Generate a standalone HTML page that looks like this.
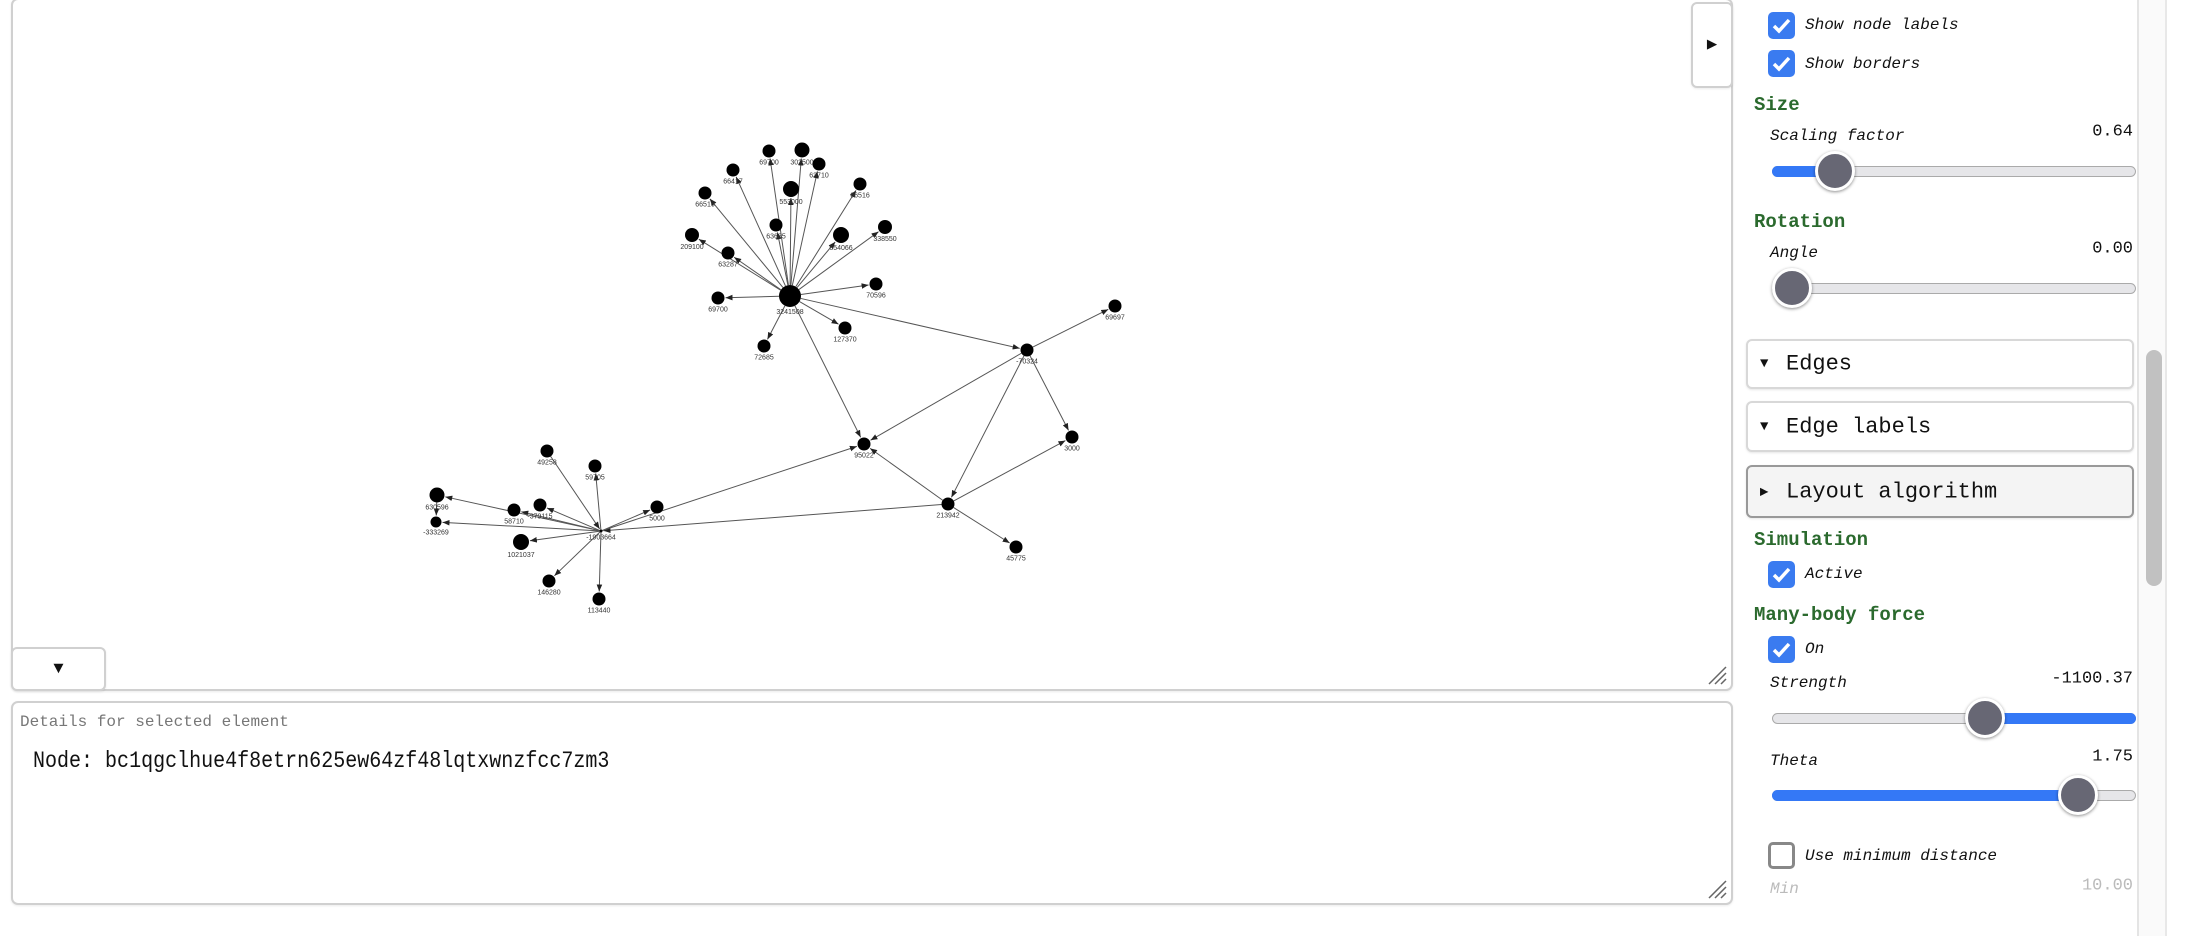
<!DOCTYPE html>
<html><head><meta charset="utf-8">
<style>
*{box-sizing:border-box;margin:0;padding:0}
body{width:2190px;height:936px;background:#fff;position:relative;overflow:hidden;font-family:"Liberation Mono",monospace;color:#111}
.abs{position:absolute}
.panel{position:absolute;border:2px solid #d0d0d0;border-radius:7px;background:#fff;box-shadow:0 1px 2px rgba(0,0,0,.08)}
.cb{position:absolute;width:27px;height:27px;border-radius:5px;background:#3a7bf0}
.cb svg{position:absolute;left:4px;top:5px}
.cb.off{background:#fff;border:3px solid #888}
.lbl{position:absolute;font-style:italic;font-size:16px;white-space:nowrap;transform:translateY(-50%)}
.head{position:absolute;font-weight:bold;color:#2b6a2e;font-size:19px;white-space:nowrap;transform:translateY(-50%)}
.val{position:absolute;font-size:17px;right:57px;transform:translateY(-50%)}
.track{position:absolute;height:11px;border-radius:6px;background:#e6e6e9;border:1px solid #aaa}
.fill{position:absolute;height:11px;border-radius:6px;background:#3478f6}
.thumb{position:absolute;width:40px;height:40px;border-radius:50%;background:#676774;border:3px solid #fff;box-shadow:0 1px 3px rgba(0,0,0,.45);transform:translate(-50%,-50%)}
.sect{position:absolute;left:1746px;width:388px;border:2px solid #d8d8d8;border-radius:6px;background:#fff;font-size:22px;box-shadow:0 1px 2px rgba(0,0,0,.1)}
.sect span{position:absolute;top:50%;transform:translateY(-50%);white-space:nowrap}
</style></head><body>

<div class="panel" style="left:11px;top:-2px;width:1722px;height:693px">
<svg id="graph" width="1722" height="693" style="position:absolute;left:-2px;top:0"></svg>
<svg class="abs" style="right:4px;bottom:4px" width="22" height="22"><path d="M21 4L4 21M21 10L10 21M21 16L16 21" stroke="#666" stroke-width="1.5"/></svg>
</div>
<div class="panel" style="left:1691px;top:2px;width:42px;height:86px;border-radius:6px;font-size:17px;text-align:center;line-height:84px">▶</div>
<div class="panel" style="left:11px;top:647px;width:95px;height:44px;border-radius:6px;font-size:17px;text-align:center;line-height:42px">▼</div>

<div class="panel" style="left:11px;top:701px;width:1722px;height:204px">
<div class="abs" style="left:7px;top:10px;font-size:16px;color:#777">Details for selected element</div>
<div class="abs" style="left:20px;top:45px;font-size:23px;color:#111;transform:scaleX(0.87);transform-origin:0 0;white-space:nowrap">Node: bc1qgclhue4f8etrn625ew64zf48lqtxwnzfcc7zm3</div>
<svg class="abs" style="right:4px;bottom:4px" width="22" height="22"><path d="M21 4L4 21M21 10L10 21M21 16L16 21" stroke="#666" stroke-width="1.5"/></svg>
</div>

<!-- right panel -->
<div class="abs" style="left:2137px;top:0;width:2px;height:936px;background:#e4e4e4"></div>
<div class="abs" style="left:2139px;top:0;width:28px;height:936px;background:#fafafa;border-right:2px solid #e8e8e8"></div>
<div class="abs" style="left:2146px;top:350px;width:16px;height:236px;border-radius:8px;background:#c1c1c1"></div>

<div class="cb" style="left:1768px;top:12px"><svg width="19" height="17"><path d="M2 9l5 5 10-11" stroke="#fff" stroke-width="3.5" fill="none"/></svg></div>
<div class="lbl" style="left:1805px;top:25px">Show node labels</div>
<div class="cb" style="left:1768px;top:50px"><svg width="19" height="17"><path d="M2 9l5 5 10-11" stroke="#fff" stroke-width="3.5" fill="none"/></svg></div>
<div class="lbl" style="left:1805px;top:64px">Show borders</div>

<div class="head" style="left:1754px;top:105px">Size</div>
<div class="lbl" style="left:1770px;top:136px">Scaling factor</div>
<div class="val" style="top:132px">0.64</div>
<div class="track" style="left:1772px;top:166px;width:364px"></div>
<div class="fill" style="left:1772px;top:166px;width:64px"></div>
<div class="thumb" style="left:1835px;top:171px"></div>

<div class="head" style="left:1754px;top:222px">Rotation</div>
<div class="lbl" style="left:1770px;top:253px">Angle</div>
<div class="val" style="top:249px">0.00</div>
<div class="track" style="left:1772px;top:283px;width:364px"></div>
<div class="thumb" style="left:1792px;top:288px"></div>

<div class="sect" style="top:339px;height:50px"><span style="left:12px;font-size:14px">▼</span><span style="left:38px">Edges</span></div>
<div class="sect" style="top:401px;height:51px"><span style="left:12px;font-size:14px">▼</span><span style="left:38px">Edge labels</span></div>
<div class="sect" style="top:465px;height:53px;background:#f4f4f4;border-color:#999"><span style="left:12px;font-size:14px">▶</span><span style="left:38px">Layout algorithm</span></div>

<div class="head" style="left:1754px;top:540px">Simulation</div>
<div class="cb" style="left:1768px;top:561px"><svg width="19" height="17"><path d="M2 9l5 5 10-11" stroke="#fff" stroke-width="3.5" fill="none"/></svg></div>
<div class="lbl" style="left:1805px;top:574px">Active</div>

<div class="head" style="left:1754px;top:615px">Many-body force</div>
<div class="cb" style="left:1768px;top:636px"><svg width="19" height="17"><path d="M2 9l5 5 10-11" stroke="#fff" stroke-width="3.5" fill="none"/></svg></div>
<div class="lbl" style="left:1805px;top:649px">On</div>
<div class="lbl" style="left:1770px;top:683px">Strength</div>
<div class="val" style="top:679px">-1100.37</div>
<div class="track" style="left:1772px;top:713px;width:364px"></div>
<div class="fill" style="left:1985px;top:713px;width:151px"></div>
<div class="thumb" style="left:1985px;top:718px"></div>

<div class="lbl" style="left:1770px;top:761px">Theta</div>
<div class="val" style="top:757px">1.75</div>
<div class="track" style="left:1772px;top:790px;width:364px"></div>
<div class="fill" style="left:1772px;top:790px;width:306px"></div>
<div class="thumb" style="left:2078px;top:795px"></div>

<div class="cb off" style="left:1768px;top:842px"></div>
<div class="lbl" style="left:1805px;top:856px">Use minimum distance</div>
<div class="lbl" style="left:1770px;top:889px;color:#bbb">Min</div>
<div class="val" style="top:886px;color:#bbb">10.00</div>

<script>
// node layout coordinates (graph space), labels and sizes
const nodeLabels = ["3241508","69700","302500","63710","66417","553000","66516","66516","63685","654066","338550","209100","63287","70596","69700","127370","72685","69697","-70324","3000","95022","213942","45775","49258","59705","630596","58710","-379115","5000","-333269","-1903664","1021037","146280","113440"];
const nodeX = [790,769,802,819,733,791,860,705,776,841,885,692,728,876,718,845,764,1115,1027,1072,864,948,1016,547,595,437,514,540,657,436,601,521,549,599];
const nodeY = [294,149,148,162,168,187,182,191,223,233,225,233,251,282,296,326,344,304,348,435,442,502,545,449,464,493,508,503,505,520,529,540,579,597];
const nodeSize = [11,6.5,7.5,6.5,6.5,8,6.5,6.5,6.5,8,7,7,6.5,6.5,6.5,6.5,6.5,6.5,6.5,6.5,6.5,6.5,6.5,6.5,6.5,7.5,6.5,6.5,6.5,5.5,1.5,8,6.5,6.5];
const edgeSource = [0,0,0,0,0,0,0,0,0,0,0,0,0,0,0,0,0,0,18,18,18,18,21,21,21,21,30,30,23,30,30,30,30,30,30,30,30,25];
const edgeTarget = [1,2,3,4,5,6,7,8,9,10,11,12,13,14,15,16,20,18,17,20,19,21,20,19,22,30,20,28,30,24,27,26,25,29,31,32,33,29];

const svg = document.getElementById('graph');
const NS = 'http://www.w3.org/2000/svg';
const xOff = 11, yOff = -2;
function xScale(v){return v - xOff;}
function yScale(v){return v - yOff;}

const defs = document.createElementNS(NS,'defs');
defs.innerHTML = '<marker id="arr" viewBox="0 0 10 10" refX="10" refY="5" markerWidth="7" markerHeight="7" orient="auto"><path d="M0 1L10 5L0 9z" fill="#222"/></marker>';
svg.appendChild(defs);

for (let i = 0; i < edgeSource.length; i++) {
  const s = edgeSource[i], t = edgeTarget[i];
  const x1 = xScale(nodeX[s]), y1 = yScale(nodeY[s]), x2 = xScale(nodeX[t]), y2 = yScale(nodeY[t]);
  const dx = x2 - x1, dy = y2 - y1, L = Math.hypot(dx, dy) || 1;
  const r1 = nodeSize[s], r2 = nodeSize[t] + 1;
  const ln = document.createElementNS(NS,'line');
  
  
  ln.setAttribute('x1', x1 + dx / L * r1); ln.setAttribute('y1', y1 + dy / L * r1);
  ln.setAttribute('x2', x2 - dx / L * r2); ln.setAttribute('y2', y2 - dy / L * r2);
  ln.setAttribute('stroke', '#555'); ln.setAttribute('stroke-width', '1');
  ln.setAttribute('marker-end', 'url(#arr)');
  svg.appendChild(ln);
}
for (let i = 0; i < nodeLabels.length; i++) {
  const c = document.createElementNS(NS,'circle');
  
  
  c.setAttribute('cx', xScale(nodeX[i])); c.setAttribute('cy', yScale(nodeY[i]));
  c.setAttribute('r', nodeSize[i]); c.setAttribute('fill', '#000');
  svg.appendChild(c);
  const tx = document.createElementNS(NS,'text');
  
  
  tx.setAttribute('x', xScale(nodeX[i])); tx.setAttribute('y', yScale(nodeY[i]) + nodeSize[i] + 7);
  tx.setAttribute('text-anchor', 'middle'); tx.setAttribute('font-size', '7');
  tx.setAttribute('font-family', 'Liberation Sans, sans-serif'); tx.setAttribute('fill', '#333');
  tx.textContent = nodeLabels[i];
  svg.appendChild(tx);
}
</script>
</body></html>
